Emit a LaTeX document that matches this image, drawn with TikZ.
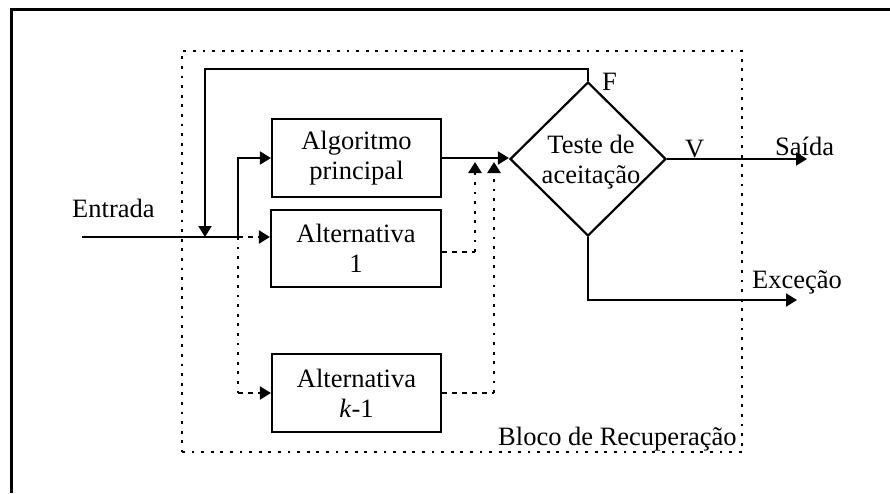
\documentclass[tikz,border=0pt]{standalone}
\usepackage{fontspec}
\setmainfont{Liberation Serif}
\usetikzlibrary{arrows.meta,shapes.geometric}
\begin{document}
\begin{tikzpicture}[x=1pt,y=-1pt,
  every node/.style={font=\fontsize{26.5}{30}\selectfont},
  box/.style={draw,line width=2.2pt,minimum width=169pt,minimum height=78pt,align=center,inner sep=0pt},
  conn/.style={line width=2pt},
  arr/.style={conn,-{Triangle[length=11pt,width=13pt]}},
  dotln/.style={line width=2.8pt,dash pattern=on 2.8pt off 6.8pt},
  dashln/.style={line width=2.2pt,dash pattern=on 5pt off 5pt},
  dotarr/.style={dotln,-{Triangle[length=11pt,width=13pt]}},
  dasharr/.style={dashln,-{Triangle[length=11pt,width=13pt]}},
  lbl/.style={anchor=base west,inner sep=0pt}]
\useasboundingbox (0,0) rectangle (890,493);
% outer frame
\draw[line width=3pt] (11,493) -- (11,9) -- (890,9);
% recovery block
\node[draw,dotln,minimum width=560pt,minimum height=401pt,inner sep=0pt] (blk) at (462,251.5) {};
% boxes
\node[box] (alg) at (356.5,158) {Algoritmo\\principal};
\node[box,minimum height=77pt,minimum width=170pt] (alt1) at (356,248.5) {Alternativa\\1};
\node[box] (altk) at (356.5,393) {Alternativa\\\textit{k}-1};
% acceptance test
\node[draw,diamond,line width=2.2pt,minimum width=156pt,minimum height=154pt,inner sep=0pt] (dia) at (588,159) {};
\node[align=center,inner sep=0pt] (diatxt) at (591,162) {Teste de\\aceitação};
% labels
\node[lbl] (entrada) at (72,217) {Entrada};
\node[lbl] (F) at (602,90) {F};
\node[lbl] (V) at (685,157) {V};
\node[lbl] (saida) at (775,155) {Saída};
\node[lbl] (exc) at (752,288) {Exceção};
\node[lbl] (bloco) at (498,445) {Bloco de Recuperação};
% coordinates
\coordinate (in) at (82,237);
\coordinate (j) at (238,237);
\coordinate (fb) at (205,237);
\coordinate (m1) at (475,252);
\coordinate (t1) at (475,162);
\coordinate (m2) at (494,393);
\coordinate (t2) at (494,162);
\coordinate (out) at (807,159);
\coordinate (exout) at (797,300);
% connectors
\draw[conn] (in) -- (j);
\draw[arr] (dia.north) -- ++(0,-12) -| (fb);
\draw[arr] (j) |- (alg.west);
\draw[dasharr] (j) -- (j -| alt1.west);
\draw[dotln] (j) -- (j |- altk.west);
\draw[dasharr] (j |- altk.west) -- (altk.west);
\draw[arr] (alg.east) -- (alg.east -| dia.west);
\draw[dashln] ([yshift=-3.5pt]alt1.east) -- (m1);
\draw[dotarr] (m1) -- (t1);
\draw[dashln] (altk.east) -- (m2);
\draw[dotarr] (m2) -- (t2);
\draw[arr] (dia.east) -- (out);
\draw[arr] (dia.south) |- (exout);
\end{tikzpicture}
\end{document}
